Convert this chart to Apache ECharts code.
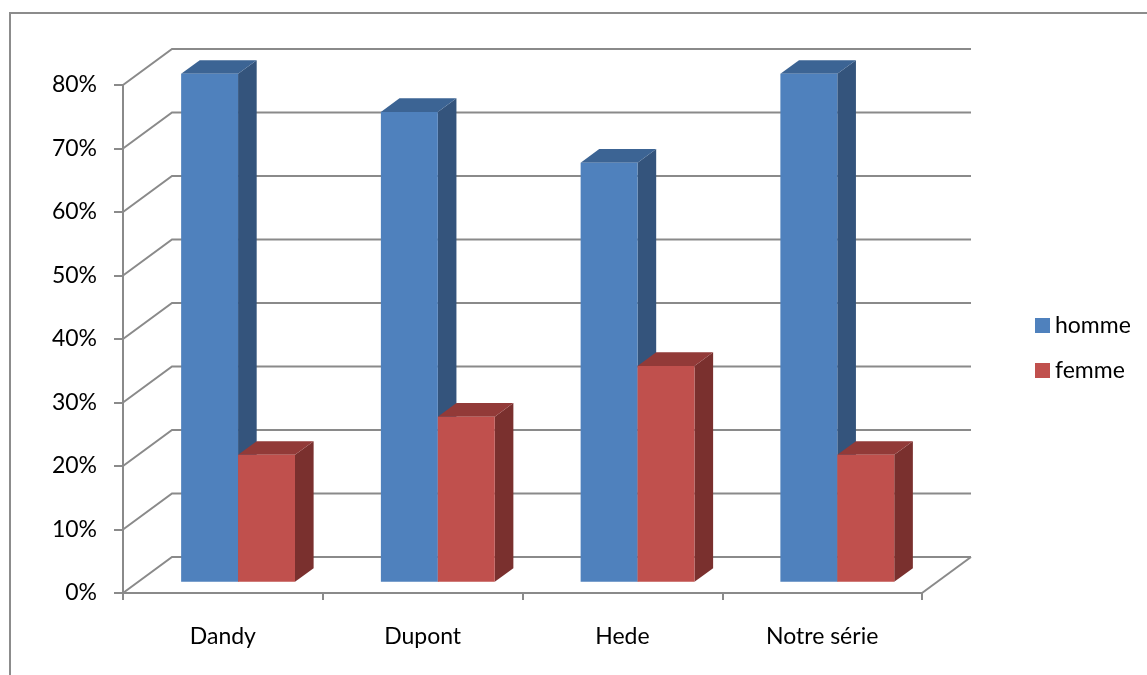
<!DOCTYPE html>
<html>
<head>
<meta charset="utf-8">
<script src="https://cdn.jsdelivr.net/npm/echarts@6/dist/echarts.min.js"></script>
<style>
  html, body { margin: 0; padding: 0; background: #ffffff; }
  #chart { width: 1147px; height: 675px; }
</style>
</head>
<body>
<div id="chart"></div>
<script>
// Data
const categories = ['Dandy', 'Dupont', 'Hede', 'Notre série'];
const homme = [80, 74, 66, 80];
const femme = [20, 26, 34, 20];
const yTicks = [0, 10, 20, 30, 40, 50, 60, 70, 80];

// Oblique 3D look: how far the floor recedes (pixels) and where the bars sit in it
const DEPTH_X = 49, DEPTH_Y = 36;
const BAR_FRONT = 0.31, BAR_BACK = 0.69;
const BAR_SHARE = 0.285;           // width of one bar relative to its category band
const FONT = 'Lato, "Open Sans", sans-serif';
const GRID_COLOR = '#8a8a8a';

const shades = {
  homme: { front: '#4F81BD', side: '#34547C', top: '#3C6494' },
  femme: { front: '#C0504D', side: '#7A302E', top: '#923A38' }
};

function shift(x, y, d) {
  return [x + d * DEPTH_X, y - d * DEPTH_Y];
}

// Back wall, side wall and floor lines, one polyline per tick value
function renderWall(params, api) {
  const v = api.value(1);
  const p = api.coord([0, v]);
  const band = api.size([1, 0])[0];
  const xl = p[0] - band / 2;
  const xr = xl + band * categories.length;
  const y = p[1];
  const children = [{
    type: 'polyline',
    shape: { points: [[xl, y], shift(xl, y, 1), shift(xr, y, 1)] },
    style: { stroke: GRID_COLOR, lineWidth: 2, fill: null }
  }];
  if (v === 0) {
    children.push({
      type: 'line',
      shape: { x1: xr, y1: y, x2: xr + DEPTH_X, y2: y - DEPTH_Y },
      style: { stroke: GRID_COLOR, lineWidth: 2 }
    });
  }
  return { type: 'group', children: children };
}

// A box-shaped column: front face, right side face and top face
function makeBarRenderer(slot, colors) {
  return function (params, api) {
    const i = api.value(0);
    const top = api.coord([i, api.value(1)]);
    const base = api.coord([i, 0]);
    const band = api.size([1, 0])[0];
    const w = band * BAR_SHARE;
    const x0 = top[0] - w + slot * w;
    const x1 = x0 + w;
    const yt = top[1], yb = base[1];
    const d0 = BAR_FRONT, d1 = BAR_BACK;
    return {
      type: 'group',
      children: [
        {
          type: 'polygon',
          shape: { points: [shift(x1, yt, d0), shift(x1, yt, d1), shift(x1, yb, d1), shift(x1, yb, d0)] },
          style: { fill: colors.side }
        },
        {
          type: 'polygon',
          shape: { points: [shift(x0, yt, d0), shift(x1, yt, d0), shift(x1, yt, d1), shift(x0, yt, d1)] },
          style: { fill: colors.top }
        },
        {
          type: 'polygon',
          shape: { points: [shift(x0, yt, d0), shift(x1, yt, d0), shift(x1, yb, d0), shift(x0, yb, d0)] },
          style: { fill: colors.front }
        }
      ]
    };
  };
}

const chart = echarts.init(document.getElementById('chart'), null, { renderer: 'canvas' });

chart.setOption({
  animation: false,
  backgroundColor: '#ffffff',
  textStyle: { fontFamily: FONT },
  graphic: [{
    type: 'rect',
    silent: true,
    shape: { x: 10, y: 13, width: 1200, height: 700 },
    style: { fill: null, stroke: '#8c8c8c', lineWidth: 2 }
  }],
  grid: {
    left: 123, top: 85, width: 799, height: 508,
    containLabel: false, outerBoundsMode: 'none'
  },
  legend: {
    orient: 'vertical',
    left: 1030, top: 309,
    icon: 'rect',
    itemWidth: 15, itemHeight: 15, itemGap: 22,
    textStyle: { fontFamily: FONT, fontSize: 23, color: '#000000' },
    data: ['homme', 'femme']
  },
  xAxis: {
    type: 'category',
    data: categories,
    axisLine: { show: true, lineStyle: { color: GRID_COLOR, width: 2 } },
    axisTick: { show: true, length: 7, interval: 0, lineStyle: { color: GRID_COLOR, width: 2 } },
    axisLabel: { margin: 32, fontSize: 23, fontFamily: FONT, color: '#000000', interval: 0 },
    splitLine: { show: false }
  },
  yAxis: {
    type: 'value',
    min: 0, max: 80, interval: 10,
    axisLine: { show: true, lineStyle: { color: GRID_COLOR, width: 2 } },
    axisTick: { show: true, length: 9, lineStyle: { color: GRID_COLOR, width: 2 } },
    axisLabel: { margin: 26, fontSize: 23, fontFamily: FONT, color: '#000000', formatter: '{value}%', padding: [3, 0, 0, 0] },
    splitLine: { show: false }
  },
  series: [
    {
      type: 'custom',
      name: 'wall',
      silent: true,
      z: 1,
      renderItem: renderWall,
      data: yTicks.map(function (v) { return [0, v]; })
    },
    {
      type: 'custom',
      name: 'homme',
      z: 2,
      itemStyle: { color: shades.homme.front },
      renderItem: makeBarRenderer(0, shades.homme),
      data: homme.map(function (v, i) { return [i, v]; })
    },
    {
      type: 'custom',
      name: 'femme',
      z: 3,
      itemStyle: { color: shades.femme.front },
      renderItem: makeBarRenderer(1, shades.femme),
      data: femme.map(function (v, i) { return [i, v]; })
    }
  ]
});
</script>
</body>
</html>
